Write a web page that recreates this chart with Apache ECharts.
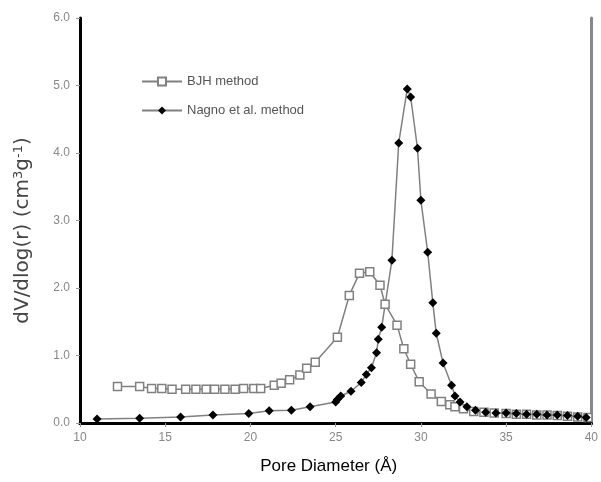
<!DOCTYPE html>
<html>
<head>
<meta charset="utf-8">
<script src="https://cdn.jsdelivr.net/npm/echarts@6/dist/echarts.min.js"></script>
<style>html,body{margin:0;padding:0;background:#fff}#c{width:601px;height:482px}</style>
</head>
<body>
<div id="c"></div>
<script>
const xTicks = [10, 15, 20, 25, 30, 35, 40];
const yTicks = [0, 1, 2, 3, 4, 5, 6];
const bjhName = 'BJH method';
const nagName = 'Nagno et al. method';
const bjhX = [12.2,13.5,14.2,14.8,15.4,16.2,16.8,17.4,17.9,18.5,19.1,19.6,20.2,20.6,21.4,21.8,22.3,22.9,23.3,23.8,25.1,25.8,26.4,27.0,27.6,27.9,28.6,29.0,29.4,29.9,30.6,31.2,31.7,32.0,32.5,33.1,33.7,34.3,35.0,35.6,36.2,36.8,37.4,38.0,38.6,39.2,39.8];
const bjhY = [0.54,0.54,0.51,0.51,0.50,0.50,0.50,0.50,0.50,0.50,0.50,0.51,0.51,0.51,0.56,0.59,0.64,0.71,0.81,0.90,1.27,1.89,2.22,2.24,2.04,1.76,1.45,1.10,0.87,0.61,0.43,0.32,0.27,0.24,0.21,0.17,0.16,0.15,0.14,0.13,0.13,0.12,0.12,0.11,0.10,0.09,0.08];
const nagX = [11.0,13.5,15.9,17.8,19.9,21.1,22.4,23.5,25.0,25.1,25.3,25.9,26.5,26.8,27.1,27.4,27.5,27.7,28.3,28.7,29.2,29.4,29.8,30.0,30.4,30.7,30.9,31.3,31.8,32.0,32.3,32.7,33.2,33.8,34.4,35.0,35.6,36.2,36.8,37.4,38.0,38.6,39.2,39.7];
const nagY = [0.06,0.07,0.09,0.12,0.14,0.18,0.19,0.24,0.31,0.35,0.40,0.47,0.60,0.72,0.82,1.04,1.24,1.42,2.41,4.15,4.95,4.83,4.07,3.30,2.53,1.78,1.33,0.89,0.56,0.40,0.31,0.24,0.19,0.16,0.15,0.15,0.14,0.13,0.13,0.12,0.12,0.11,0.10,0.08];

const zip = (a, b) => a.map((v, i) => [v, b[i]]);
const chart = echarts.init(document.getElementById('c'));
const font = 'Liberation Sans, Arial, sans-serif';
chart.setOption({
  animation: false,
  textStyle: { fontFamily: font },
  grid: { left: 80, right: 4, top: 18, bottom: 59 },
  legend: {
    left: 136, top: 70, orient: 'vertical', itemGap: 16,
    itemWidth: 40, itemHeight: 10,
    textStyle: { fontSize: 13, color: '#555', fontFamily: font },
    data: [bjhName, nagName]
  },
  xAxis: [{
    type: 'value', min: xTicks[0], max: xTicks[xTicks.length - 1], interval: 5,
    axisLine: { show: true, onZero: false, lineStyle: { color: '#000', width: 3 } },
    axisTick: { show: true, length: 4, lineStyle: { color: '#999' } },
    axisLabel: { color: '#888', fontSize: 12, margin: 9 },
    splitLine: { show: false },
    name: 'Pore Diameter (Å)', nameLocation: 'middle', nameGap: 35,
    nameTextStyle: { fontSize: 17, color: '#000', fontFamily: font, padding: [0, 14, 0, 0] }
  }, {
    type: 'value', position: 'top', min: 10, max: 40,
    axisLine: { show: true, lineStyle: { color: '#000', width: 3 } },
    axisTick: { show: false }, axisLabel: { show: false }, splitLine: { show: false }
  }],
  yAxis: [{
    type: 'value', min: yTicks[0], max: yTicks[yTicks.length - 1], interval: 1,
    axisLine: { show: true, onZero: false, lineStyle: { color: '#000', width: 3 } },
    axisTick: { show: true, length: 4, lineStyle: { color: '#999' } },
    axisLabel: { color: '#888', fontSize: 12, margin: 10, formatter: v => v.toFixed(1) },
    splitLine: { show: false },
    name: 'dV/dlog(r) (cm{s|3}g{s|-1})', nameLocation: 'middle', nameGap: 46, nameRotate: 90,
    nameTextStyle: {
      fontSize: 20, color: '#444', fontFamily: 'DejaVu Sans, sans-serif', padding: [0, 20, 0, 0],
      rich: { s: { fontSize: 13, color: '#444', fontFamily: 'DejaVu Sans, sans-serif', verticalAlign: 'top', padding: [0, 0, 9, 0] } }
    }
  }, {
    type: 'value', position: 'right', min: 0, max: 6,
    axisLine: { show: true, lineStyle: { color: '#888', width: 3 } },
    axisTick: { show: false }, axisLabel: { show: false }, splitLine: { show: false }
  }],
  series: [{
    name: bjhName, type: 'line', data: zip(bjhX, bjhY),
    symbol: 'rect', symbolSize: 8, showAllSymbol: true,
    lineStyle: { color: '#808080', width: 1.5 },
    itemStyle: { color: '#fff', borderColor: '#808080', borderWidth: 1.5 }
  }, {
    name: nagName, type: 'line', data: zip(nagX, nagY),
    symbol: 'diamond', symbolSize: 9, showAllSymbol: true,
    lineStyle: { color: '#808080', width: 1.5 },
    itemStyle: { color: '#000', borderColor: '#000', borderWidth: 0 }
  }]
});
</script>
</body>
</html>
